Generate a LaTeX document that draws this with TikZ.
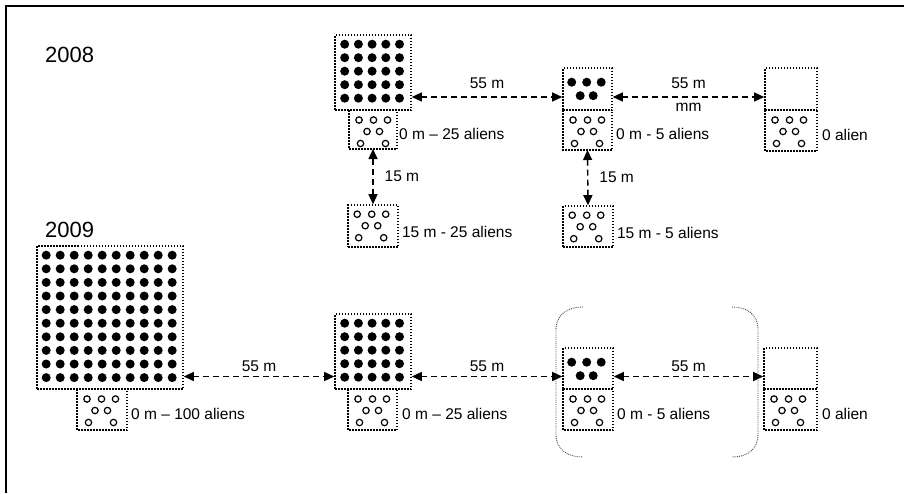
\documentclass[tikz,border=0pt]{standalone}
\usepackage{fontspec}
\setmainfont{Liberation Sans}
\usetikzlibrary{arrows.meta, positioning, calc}

\begin{document}
\begin{tikzpicture}[
    x=1pt, y=-1pt,
    every node/.style={inner sep=0pt},
    box/.style={draw, line width=1.6pt, dash pattern=on 1.5pt off 1.5pt},
    cup/.style={outer sep=0pt},
    link/.style={{Triangle[length=10pt,width=9pt]}-{Triangle[length=10pt,width=9pt]},
                 line width=1.4pt, dash pattern=on 6pt off 4pt},
    dist/.style={font=\fontsize{15.5}{18}\selectfont},
    side/.style={font=\fontsize{15.5}{18}\selectfont, yshift=-4pt},
    yr/.style={font=\fontsize{22}{26}\selectfont},
    ring/.style={line width=1.2pt},
    paren/.style={draw=black!70, line width=0.9pt, dash pattern=on 0.9pt off 1pt},
]
\useasboundingbox (0,0) rectangle (904,493);

% frame
\draw[line width=2pt] (6,493) -- (6,6) -- (904,6);

% ================================================================ 2008
\node[yr, anchor=west] (y08) at (45,55) {2008};

\node[box, minimum width=76pt, minimum height=75pt] (top25) at (373,72.5) {};
\node[cup, minimum width=48pt, minimum height=39pt] (top25c) at (373,129.5) {};
\node[box, minimum width=49pt, minimum height=42pt] (top5) at (587.5,89) {};
\node[cup, minimum width=49pt, minimum height=40pt] (top5c) at (587.5,130) {};
\node[box, minimum width=52pt, minimum height=42pt] (top0) at (791,89) {};
\node[cup, minimum width=52pt, minimum height=41pt] (top0c) at (791,130.5) {};
\node[box, minimum width=50pt, minimum height=42pt] (d25) at (373,226) {};
\node[box, minimum width=50pt, minimum height=41pt] (d5) at (588,226.5) {};

\node[side, right=2pt of top25c] (l25) {0 m – 25 aliens};
\node[side, right=4pt of top5c] (l5) {0 m - 5 aliens};
\node[side, right=5pt of top0c] (l0) {0 alien};
\node[side, right=3pt of d25, yshift=-2pt] (l25d) {15 m - 25 aliens};
\node[side, right=3pt of d5, yshift=-2pt] (l5d) {15 m - 5 aliens};

\coordinate (r08) at (0,97);
\draw[link] (top25.east |- r08) -- (top5.west |- r08)
    node[dist, midway, above=8pt] (m08a) {55 m};
\draw[link] (top5.east |- r08) -- (top0.west |- r08)
    node[dist, midway, above=8pt] (m08b) {55 m}
    node[dist, midway, below=5pt] (m08c) {mm};
\draw[link] (top25c.south) -- (d25.north)
    node[dist, midway, right=11pt] (m08d) {15 m};
\draw[link] (top5c.south) -- (d5.north)
    node[dist, midway, right=11pt] (m08e) {15 m};

% ================================================================ 2009
\node[yr, anchor=west] (y09) at (45,230) {2009};

\node[box, minimum width=146pt, minimum height=143pt] (big100) at (110,317.5) {};
\node[cup, minimum width=50pt, minimum height=41pt] (big100c) at (102,409.5) {};
\node[box, minimum width=76pt, minimum height=75pt] (mid25) at (373,351.5) {};
\node[cup, minimum width=49pt, minimum height=41pt] (mid25c) at (372.5,409.5) {};
\node[box, minimum width=50pt, minimum height=41pt] (low5) at (588,368.5) {};
\node[cup, minimum width=50pt, minimum height=41pt] (low5c) at (588,409.5) {};
\node[box, minimum width=53pt, minimum height=41pt] (low0) at (790.5,368.5) {};
\node[cup, minimum width=53pt, minimum height=41pt] (low0c) at (790.5,409.5) {};

\node[side, right=4pt of big100c] (l100) {0 m – 100 aliens};
\node[side, right=5pt of mid25c] (l25b) {0 m – 25 aliens};
\node[side, right=4pt of low5c] (l5b) {0 m - 5 aliens};
\node[side, right=5pt of low0c] (l0b) {0 alien};

\coordinate (r09) at (0,376.5);
\draw[link] (big100.east |- r09) -- (mid25.west |- r09)
    node[dist, midway, above=4pt] (m09a) {55 m};
\draw[link] (mid25.east |- r09) -- (low5.west |- r09)
    node[dist, midway, above=4pt] (m09b) {55 m};
\draw[link] (low5.east |- r09) -- (low0.west |- r09)
    node[dist, midway, above=4pt] (m09c) {55 m};

% brackets round the third site
\draw[paren] (583,307) .. controls (568,307) and (556,314) .. (556,330)
    -- (556,434) .. controls (556,450) and (568,457) .. (583,457);
\draw[paren] (732,307) .. controls (747,307) and (758,314) .. (758,330)
    -- (758,434) .. controls (758,450) and (747,457) .. (732,457);

% ================================================================ contents
% open boxes hanging under the dot boxes
\foreach \b in {top25c, top5c, top0c, big100c, mid25c, low5c, low0c}
    \draw[box] (\b.north west) |- (\b.south east) -- (\b.north east);

\foreach \b in {top25, mid25}{
    \foreach \i in {0,...,4}{
        \foreach \j in {0,...,4}{
            \fill ($(\b.north west)+(10.5+13.7*\i, 10+13.5*\j)$) circle[radius=4.5pt];
        }
    }
}
\foreach \i in {0,...,9}{
    \foreach \j in {0,...,9}{
        \fill ($(big100.north west)+(10+14*\i, 10+13.6*\j)$) circle[radius=4.5pt];
    }
}
\foreach \b in {top5, low5}{
    \foreach \u/\v in {9.5/15, 24.5/15, 39/15, 18/28.5, 31/28.5}
        \fill ($(\b.north west)+(\u,\v)$) circle[radius=4.5pt];
}
\foreach \b in {top25c, top5c, top0c, d25, d5, big100c, mid25c, low5c, low0c}{
    \foreach \u/\v in {10/10, 24.5/10, 38.5/10, 18/21.5, 30.5/21.5, 11.5/33.5, 36.5/33.5}
        \draw[ring] ($(\b.north west)+(\u,\v)$) circle[radius=3.2pt];
}

\end{tikzpicture}
\end{document}
